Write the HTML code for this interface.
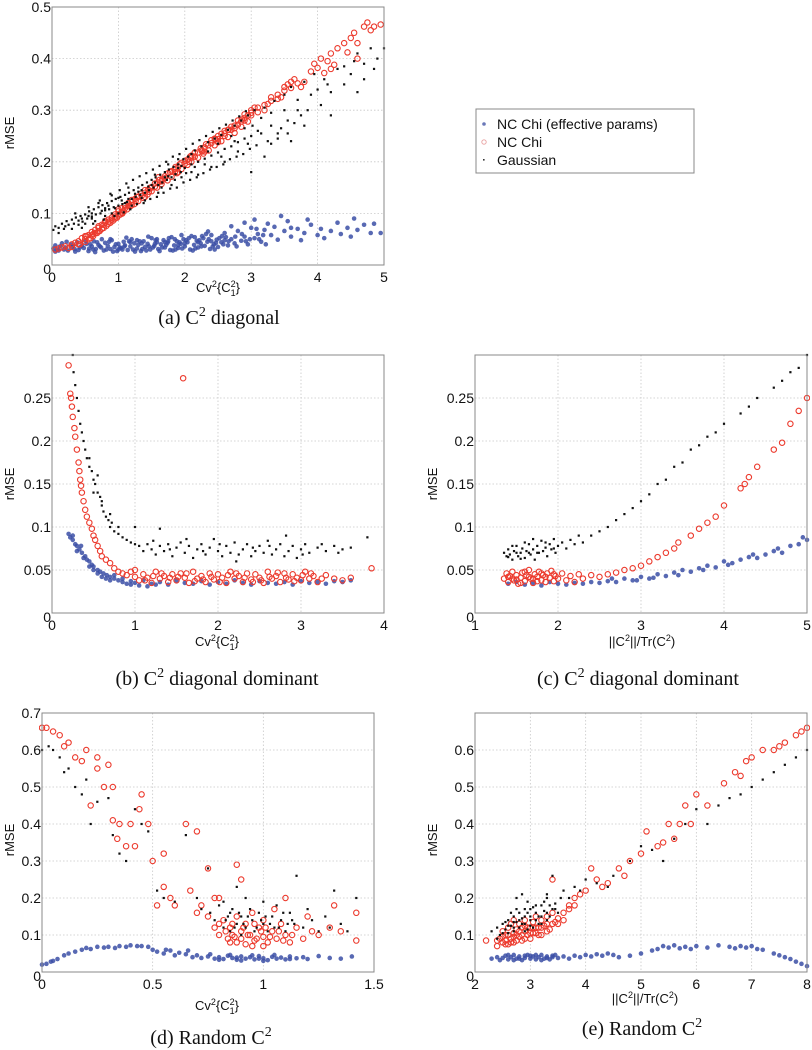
<!DOCTYPE html>
<html><head><meta charset="utf-8">
<style>
html,body{margin:0;padding:0;background:#fff;}
svg{display:block;font-family:"Liberation Sans",sans-serif;}
.cap{font-family:"Liberation Serif",serif;font-size:20px;fill:#111;}
.tk{font-size:14px;fill:#111;}
.al{font-size:13px;fill:#111;}
</style></head>
<body>
<svg id="fig" width="812" height="1050" viewBox="0 0 812 1050" xmlns="http://www.w3.org/2000/svg">
  <g id="legend">
    <rect x="476" y="109" width="218" height="64" fill="#fff" stroke="#888" stroke-width="1"/>
    <g>
      <circle cx="484" cy="124" r="1.8" fill="#6a78b8"/>
      <text x="497" y="129" font-size="14" fill="#111">NC Chi (effective params)</text>
    </g>
    <g>
      <circle cx="484" cy="142" r="2.2" fill="none" stroke="#e8a0a0" stroke-width="0.9"/>
      <text x="497" y="147" font-size="14" fill="#111">NC Chi</text>
    </g>
    <g>
      <rect x="483" y="159" width="1.6" height="1.6" fill="#333"/>
      <text x="497" y="165" font-size="14" fill="#111">Gaussian</text>
    </g>
  </g>
  <text class="cap" x="219" y="324" text-anchor="middle">(a) C<tspan dy="-8" font-size="14">2</tspan><tspan dy="8">  diagonal</tspan></text>
  <text class="cap" x="217" y="685" text-anchor="middle">(b) C<tspan dy="-8" font-size="14">2</tspan><tspan dy="8">  diagonal dominant</tspan></text>
  <text class="cap" x="638" y="685" text-anchor="middle">(c) C<tspan dy="-8" font-size="14">2</tspan><tspan dy="8">  diagonal dominant</tspan></text>
  <text class="cap" x="211" y="1044" text-anchor="middle">(d) Random C<tspan dy="-8" font-size="14">2</tspan></text>
  <text class="cap" x="642" y="1035" text-anchor="middle">(e) Random C<tspan dy="-8" font-size="14">2</tspan></text>
</svg>
<script>
// ---------- Panel (a) data ----------
const aBlue=[0.02,.032,0.05,.038,0.08,.030,0.12,.036,0.15,.042,0.2,.034,0.24,.028,0.28,.040,0.3,.035,0.34,.031,0.38,.044,0.4,.029,0.45,.037,0.48,.033,0.52,.041,0.55,.027,0.6,.036,0.63,.046,0.66,.031,0.7,.039,0.74,.034,0.78,.028,0.8,.043,0.84,.037,0.88,.031,0.9,.048,0.94,.035,0.98,.027,1.0,.041,1.04,.033,1.08,.045,1.1,.038,1.14,.029,1.18,.036,1.2,.050,1.24,.042,1.28,.032,1.3,.039,1.34,.027,1.38,.046,1.4,.035,1.44,.041,1.48,.030,1.5,.052,1.54,.037,1.58,.044,1.6,.031,1.64,.040,1.68,.048,1.7,.034,1.74,.043,1.78,.029,1.8,.054,1.84,.038,1.88,.046,1.9,.033,1.94,.041,1.98,.050,2.0,.036,2.04,.044,2.08,.030,2.1,.056,2.14,.039,2.18,.047,2.2,.034,2.24,.042,2.28,.052,2.3,.037,2.34,.045,2.38,.031,2.4,.058,2.44,.040,2.48,.049,2.5,.035,2.55,.044,2.6,.062,2.65,.038,2.7,.050,2.75,.042,2.8,.066,2.85,.047,2.9,.055,2.95,.040,3.0,.072,3.05,.052,3.1,.060,3.15,.045,3.2,.068,3.3,.058,3.35,.074,3.4,.049,3.5,.066,3.55,.085,3.6,.055,3.7,.070,3.75,.048,3.8,.062,3.9,.078,4.0,.058,4.05,.070,4.1,.052,4.2,.066,4.3,.082,4.35,.060,4.45,.072,4.5,.055,4.55,.090,4.6,.068,4.7,.078,4.8,.062,4.85,.080,4.95,.062,0.1,.028,0.22,.045,0.35,.026,0.5,.047,0.65,.025,0.75,.050,0.92,.026,1.12,.053,1.25,.026,1.45,.055,1.62,.027,1.82,.028,1.95,.058,2.12,.028,2.32,.060,2.45,.030,0.58,.040,0.86,.045,1.02,.034,1.32,.046,1.52,.034,1.72,.039,1.92,.044,2.22,.048,2.52,.052,2.35,.065,2.7,.075,2.9,.082,3.05,.088,3.25,.080,3.45,.095,3.6,.072,3.85,.088,1.06,.030,1.36,.031,1.56,.048,1.76,.052,1.86,.030,2.06,.052,2.16,.032,2.26,.056,2.42,.036,2.58,.040,2.62,.054,2.78,.036,2.92,.046,3.12,.050,3.22,.040];
const aBlueExtra=[0.05,.026,0.18,.030,0.32,.038,0.42,.034,0.56,.032,0.68,.044,0.82,.030,0.96,.040,1.09,.036,1.16,.046,1.22,.030,1.35,.042,1.42,.028,1.55,.041,1.66,.034,1.75,.046,1.85,.050,1.96,.032,2.02,.048,2.15,.054,2.25,.036,2.36,.050,2.47,.043,2.56,.056,2.66,.046,2.76,.055,2.86,.060,2.98,.050,3.08,.070,3.18,.058,0.62,.030,0.72,.036,0.88,.050,1.0,.030,1.18,.044,1.28,.048,1.46,.036,1.58,.050,1.7,.044,1.9,.038,2.0,.042,2.2,.044,2.4,.046,2.6,.048];
const aRed=[0.05,.030,0.1,.032,0.15,.034,0.2,.036,0.25,.033,0.3,.040,0.35,.043,0.4,.046,0.42,.040,0.45,.052,0.5,.050,0.52,.056,0.55,.058,0.58,.052,0.6,.064,0.62,.060,0.65,.068,0.68,.062,0.7,.072,0.72,.066,0.75,.078,0.78,.072,0.8,.082,0.82,.076,0.85,.088,0.88,.082,0.9,.092,0.92,.086,0.95,.098,0.98,.092,1.0,.104,1.03,.098,1.05,.110,1.08,.104,1.1,.115,1.13,.108,1.15,.120,1.18,.114,1.2,.126,1.24,.118,1.28,.132,1.3,.124,1.34,.138,1.38,.130,1.4,.145,1.44,.137,1.48,.150,1.5,.143,1.55,.158,1.58,.150,1.62,.165,1.65,.157,1.7,.172,1.74,.164,1.78,.180,1.8,.171,1.85,.186,1.88,.178,1.92,.195,1.95,.186,2.0,.202,2.04,.194,2.08,.210,2.1,.200,2.15,.218,2.2,.208,2.24,.226,2.28,.216,2.32,.234,2.36,.222,2.4,.242,2.45,.232,2.5,.250,2.55,.240,2.6,.260,2.65,.248,2.7,.268,2.75,.256,2.8,.280,2.85,.268,2.9,.292,2.95,.278,3.0,.300,3.1,.296,3.2,.310,3.3,.318,3.4,.330,3.5,.338,3.55,.350,3.6,.343,3.65,.360,3.7,.352,3.8,.355,3.9,.375,3.95,.390,4.0,.382,4.05,.400,4.1,.372,4.15,.395,4.2,.410,4.25,.388,4.3,.420,4.4,.430,4.45,.412,4.5,.440,4.55,.450,4.6,.430,4.7,.462,4.75,.470,4.8,.455,4.85,.462,4.95,.466,4.6,.400,4.2,.380,3.75,.345,1.6,.160,1.0,.096,0.7,.065,0.5,.045,0.3,.035,2.3,.220,2.6,.250,2.9,.285,3.0,.290,1.2,.116,0.85,.080,0.95,.090,1.4,.132,1.9,.180,2.1,.208,2.5,.238,2.75,.270,0.62,.056,0.78,.078,1.06,.100,1.26,.124,1.46,.142,1.66,.166,1.86,.190,2.06,.200,2.26,.220,2.46,.244,2.66,.262,2.86,.282,3.05,.305,3.25,.312,3.45,.325];
const aRedExtra=[0.4,.040,0.5,.056,0.55,.050,0.6,.058,0.65,.062,0.7,.075,0.75,.070,0.8,.085,0.85,.084,0.9,.088,0.95,.094,1.0,.108,1.05,.102,1.1,.110,1.15,.114,1.2,.122,1.25,.128,1.3,.132,1.35,.134,1.4,.140,1.45,.146,1.5,.150,1.55,.152,1.6,.170,1.65,.162,1.7,.168,1.75,.178,1.8,.182,1.85,.180,1.9,.190,1.95,.198,2.0,.196,2.05,.205,2.1,.212,2.15,.210,2.2,.218,2.25,.222,2.3,.228,2.35,.232,2.4,.236,2.45,.245,2.5,.244,2.55,.254,2.6,.255,2.65,.262,2.7,.262,2.75,.265,2.8,.272,2.85,.278,2.9,.280,2.95,.290,3.0,.295,3.1,.305,3.2,.300,3.3,.325,3.4,.322,3.5,.345,3.6,.355];
const aBlack=[0.02,.068,0.05,.075,0.1,.072,0.15,.080,0.18,.070,0.22,.085,0.25,.078,0.3,.088,0.33,.080,0.36,.092,0.4,.086,0.43,.095,0.46,.084,0.5,.098,0.53,.090,0.56,.104,0.6,.094,0.63,.108,0.66,.098,0.7,.112,0.73,.100,0.76,.116,0.8,.106,0.83,.120,0.86,.108,0.9,.124,0.93,.112,0.96,.128,1.0,.115,1.03,.132,1.06,.118,1.1,.136,1.13,.122,1.16,.140,1.2,.128,1.23,.145,1.26,.132,1.3,.150,1.33,.136,1.36,.155,1.4,.140,1.43,.160,1.46,.145,1.5,.165,1.53,.150,1.56,.170,1.6,.155,1.63,.175,1.66,.160,1.7,.180,1.73,.165,1.76,.185,1.8,.170,1.83,.190,1.86,.176,1.9,.195,1.94,.180,1.98,.205,2.0,.188,2.05,.210,2.1,.195,2.15,.222,2.2,.200,2.25,.230,2.3,.206,2.35,.238,2.4,.212,2.45,.245,2.5,.218,2.55,.252,2.6,.225,2.65,.262,2.7,.230,2.75,.270,2.8,.238,2.85,.280,2.9,.245,2.95,.290,3.0,.250,3.05,.300,3.1,.260,3.2,.305,3.3,.270,3.35,.318,3.4,.255,3.5,.330,3.55,.280,3.6,.345,3.7,.300,3.75,.290,3.8,.355,3.9,.330,3.95,.370,4.0,.340,4.1,.360,4.2,.290,4.3,.380,4.4,.350,4.5,.370,4.6,.410,4.7,.390,4.8,.420,4.9,.400,5.0,.420,2.4,.190,2.6,.200,2.8,.220,3.0,.180,3.4,.245,3.6,.240,3.2,.210,1.4,.125,1.2,.115,1.6,.140,1.8,.155,2.2,.175,0.5,.080,0.8,.095,1.0,.100,0.3,.070,0.6,.090,0.1,.062,1.15,.150,0.9,.135,0.7,.120,1.9,.205,2.1,.215,4.2,.335,4.6,.335,0.95,.110,1.05,.125,1.25,.138,1.35,.130,1.45,.152,1.55,.160,1.65,.150,1.75,.172,1.85,.165,1.95,.192,2.02,.178,0.55,.095,0.75,.105,0.85,.115,0.65,.085,0.45,.090];
const aBlackExtra=[0.35,.100,0.45,.072,0.55,.112,0.62,.080,0.72,.125,0.78,.088,0.88,.138,0.94,.095,1.02,.145,1.08,.102,1.12,.158,1.18,.108,1.22,.165,1.28,.118,1.32,.172,1.38,.120,1.42,.178,1.48,.128,1.52,.185,1.58,.132,1.62,.192,1.68,.140,1.72,.200,1.78,.148,1.82,.210,1.88,.150,1.92,.215,1.98,.160,2.02,.225,2.08,.165,2.12,.235,2.18,.170,2.22,.242,2.28,.178,2.32,.250,2.38,.185,2.42,.258,2.48,.190,2.52,.265,2.58,.195,2.62,.272,2.68,.205,2.72,.280,2.78,.210,2.82,.288,2.88,.215,2.92,.298,2.98,.225,3.02,.270,3.08,.232,3.15,.285,3.25,.240,3.3,.295,3.45,.265,3.5,.300,3.65,.275,3.7,.320,3.85,.300,1.0,.130,1.1,.120,1.3,.142,1.5,.155,1.7,.170,1.9,.188,2.1,.180,2.3,.195,2.5,.235,2.7,.250,2.9,.265,0.2,.075,0.4,.078,0.6,.100,0.8,.110,0.9,.100,1.15,.128,1.35,.145,1.55,.175,1.75,.195,1.95,.170,2.15,.190,2.35,.220,2.55,.210,2.75,.240,2.95,.235,3.15,.255,3.3,.235,3.55,.255,3.8,.270,4.05,.310,4.15,.350,4.4,.385,4.7,.360,4.85,.380,4.55,.395];
// ---------- Panel (b) data ----------
const bBlue=[0.2,.092,0.22,.088,0.25,.085,0.28,.080,0.3,.078,0.33,.074,0.36,.070,0.4,.066,0.42,.062,0.45,.060,0.48,.056,0.5,.054,0.55,.050,0.58,.048,0.62,.046,0.66,.044,0.7,.042,0.75,.040,0.8,.038,0.85,.036,0.9,.034,0.95,.037,1.0,.035,1.05,.032,1.1,.038,1.2,.034,1.3,.036,1.4,.033,1.5,.038,1.6,.035,1.7,.034,1.8,.037,1.9,.033,2.0,.036,2.1,.034,2.2,.038,2.3,.035,2.4,.033,2.5,.037,2.6,.035,2.7,.034,2.8,.036,2.9,.033,3.0,.037,3.1,.035,3.2,.036,3.3,.034,3.4,.037,3.5,.036,3.6,.038,0.3,.072,0.38,.064,0.5,.050,0.6,.042,0.7,.038,0.55,.046,0.65,.040,0.45,.054,0.25,.090,0.35,.078,0.75,.044,0.85,.040,0.95,.033,1.15,.031,1.25,.033];
const bRed=[0.2,.288,0.22,.255,0.23,.250,0.24,.240,0.25,.228,0.27,.215,0.28,.205,0.3,.190,0.32,.175,0.33,.165,0.34,.155,0.35,.148,0.36,.140,0.38,.130,0.4,.120,0.42,.112,0.45,.105,0.48,.098,0.5,.090,0.52,.085,0.55,.078,0.58,.072,0.6,.066,0.65,.062,0.7,.058,0.75,.052,0.8,.048,0.85,.046,0.9,.044,0.95,.048,1.0,.050,1.0,.042,1.58,.273,3.85,.052,1.05,.038,1.1,.045,1.15,.041,1.2,.035,1.25,.048,1.3,.040,1.35,.043,1.4,.036,1.45,.045,1.5,.038,1.55,.046,1.6,.041,1.65,.035,1.7,.048,1.75,.040,1.8,.043,1.85,.036,1.9,.046,1.95,.039,2.0,.045,2.05,.041,2.1,.035,2.15,.048,2.2,.040,2.25,.043,2.3,.036,2.35,.046,2.4,.039,2.45,.045,2.5,.041,2.55,.035,2.6,.048,2.65,.040,2.7,.043,2.75,.036,2.8,.046,2.85,.039,2.9,.045,2.95,.041,3.0,.038,3.05,.048,3.1,.040,3.15,.043,3.2,.036,3.3,.044,3.4,.040,3.5,.038,3.6,.041,1.12,.038,1.32,.046,1.52,.042,1.72,.037,1.92,.042,2.12,.044,2.32,.041,2.52,.038,2.72,.047,2.92,.037,3.12,.046,1.22,.043,1.42,.041,1.62,.046,1.82,.039,2.02,.036,2.22,.046,2.42,.036,2.62,.042,2.82,.041,3.02,.044,3.25,.040];
const bBlack=[0.25,.300,0.26,.280,0.28,.265,0.3,.250,0.32,.235,0.34,.220,0.36,.210,0.38,.200,0.4,.190,0.42,.180,0.45,.170,0.48,.165,0.5,.155,0.52,.150,0.55,.140,0.58,.135,0.6,.125,0.62,.118,0.65,.112,0.68,.108,0.7,.100,0.72,.105,0.75,.095,0.8,.092,0.85,.088,0.9,.085,0.95,.082,1.0,.100,1.0,.080,0.45,.180,0.5,.140,0.55,.160,0.6,.130,0.7,.115,0.8,.100,3.8,.088,1.05,.078,1.1,.072,1.15,.080,1.2,.074,1.25,.068,1.3,.098,1.3,.078,1.35,.072,1.4,.080,1.45,.066,1.5,.076,1.55,.082,1.6,.070,1.65,.078,1.7,.064,1.75,.074,1.8,.080,1.85,.068,1.9,.076,1.95,.086,2.0,.072,2.05,.066,2.1,.078,2.15,.070,2.2,.082,2.25,.068,2.3,.074,2.35,.080,2.4,.066,2.45,.072,2.5,.078,2.55,.070,2.6,.084,2.65,.068,2.7,.074,2.75,.080,2.8,.066,2.85,.072,2.9,.078,2.95,.064,3.0,.074,3.05,.080,3.1,.070,3.2,.076,3.3,.072,3.4,.078,3.5,.074,3.6,.076,1.22,.084,1.42,.074,1.62,.086,1.82,.072,2.02,.080,2.22,.060,2.42,.076,2.62,.078,2.82,.090,3.02,.068,3.25,.080,3.45,.070];
// ---------- Panel (c) data ----------
const cBlue=[1.4,.034,1.5,.036,1.6,.033,1.7,.035,1.8,.032,1.9,.036,2.0,.034,2.1,.033,2.2,.035,2.3,.034,2.4,.036,2.5,.035,2.6,.037,2.7,.036,2.8,.040,2.9,.038,3.0,.042,3.1,.040,3.2,.045,3.3,.043,3.4,.047,3.5,.050,3.6,.048,3.7,.052,3.8,.055,3.9,.053,4.0,.060,4.1,.058,4.2,.062,4.3,.065,4.4,.064,4.5,.068,4.6,.072,4.7,.070,4.8,.078,4.9,.080,5.0,.085,3.15,.041,3.45,.044,3.75,.050,4.05,.056,4.35,.068,4.65,.075,4.95,.088,2.65,.040,2.95,.038];
const cRed=[1.35,.040,1.38,.046,1.4,.036,1.42,.043,1.45,.048,1.47,.038,1.5,.044,1.52,.034,1.55,.041,1.57,.047,1.6,.037,1.62,.044,1.65,.050,1.67,.040,1.7,.035,1.72,.045,1.75,.042,1.77,.048,1.8,.038,1.82,.044,1.85,.036,1.87,.046,1.9,.041,1.92,.049,1.95,.037,1.97,.043,2.0,.040,2.05,.046,2.1,.038,2.15,.043,2.2,.036,2.25,.045,2.3,.040,2.4,.044,2.5,.042,1.45,.040,1.55,.035,1.65,.042,1.75,.037,1.85,.042,1.95,.045,1.6,.048,1.7,.040,1.8,.046,1.5,.039,1.4,.042,2.6,.045,2.7,.047,2.8,.050,2.9,.052,3.0,.055,3.1,.060,3.2,.065,3.3,.070,3.4,.075,3.45,.082,3.6,.090,3.7,.098,3.8,.105,3.9,.112,4.0,.125,4.2,.145,4.25,.150,4.3,.158,4.4,.170,4.6,.190,4.7,.198,4.8,.220,4.9,.235,5.0,.250];
const cBlack=[1.35,.070,1.38,.066,1.4,.074,1.42,.068,1.45,.062,1.47,.072,1.5,.078,1.52,.066,1.55,.070,1.57,.075,1.6,.064,1.62,.072,1.65,.080,1.67,.068,1.7,.074,1.72,.062,1.75,.078,1.77,.070,1.8,.084,1.82,.072,1.85,.076,1.87,.066,1.9,.080,1.92,.074,1.95,.086,1.97,.070,2.0,.078,2.05,.082,2.1,.075,2.15,.085,2.2,.080,2.25,.090,1.45,.078,1.55,.063,1.65,.070,1.75,.070,1.85,.082,1.95,.075,1.6,.082,1.7,.086,1.4,.065,1.5,.070,2.3,.082,2.4,.090,2.5,.095,2.6,.100,2.7,.108,2.8,.115,2.9,.122,3.0,.130,3.1,.138,3.2,.150,3.3,.155,3.4,.170,3.5,.175,3.6,.190,3.7,.195,3.8,.205,3.9,.210,4.0,.220,4.2,.232,4.3,.240,4.4,.250,4.6,.262,4.7,.270,4.8,.280,4.9,.285,5.0,.300];
// ---------- Panel (d) data ----------
const dBlue=[0.0,.020,0.02,.022,0.04,.028,0.05,.030,0.07,.035,0.1,.045,0.12,.050,0.15,.055,0.18,.060,0.2,.065,0.22,.062,0.25,.068,0.28,.066,0.3,.068,0.33,.065,0.35,.070,0.38,.068,0.4,.072,0.43,.070,0.45,.070,0.48,.068,0.5,.060,0.52,.055,0.55,.050,0.58,.058,0.6,.045,0.62,.052,0.65,.048,0.68,.040,0.7,.045,0.72,.038,0.75,.042,0.78,.036,0.8,.040,0.82,.035,0.84,.044,0.86,.038,0.88,.033,0.9,.042,0.92,.036,0.94,.040,0.96,.034,0.98,.043,1.0,.037,1.02,.032,1.04,.041,1.06,.036,1.08,.039,1.1,.034,1.12,.042,1.15,.037,1.18,.040,1.2,.035,1.25,.043,1.3,.038,1.35,.036,1.4,.042,0.85,.046,0.95,.045,1.05,.046,0.9,.031,1.0,.030,0.88,.039,0.98,.036,1.12,.035,0.8,.033,0.76,.048,0.66,.058,0.56,.060];
const dRed=[0.0,.660,0.02,.660,0.05,.650,0.08,.640,0.1,.610,0.12,.620,0.15,.580,0.18,.570,0.2,.600,0.22,.450,0.25,.550,0.25,.580,0.28,.500,0.3,.560,0.32,.500,0.32,.410,0.34,.360,0.35,.400,0.38,.340,0.4,.400,0.42,.340,0.44,.440,0.45,.480,0.48,.400,0.5,.300,0.52,.180,0.55,.320,0.55,.230,0.58,.200,0.6,.180,0.65,.400,0.67,.220,0.7,.380,0.72,.180,0.75,.280,0.78,.200,0.8,.200,0.88,.290,0.9,.250,0.75,.150,0.78,.120,0.8,.100,0.82,.140,0.84,.090,0.85,.120,0.86,.100,0.88,.080,0.88,.150,0.9,.110,0.9,.090,0.92,.130,0.92,.075,0.94,.100,0.95,.160,0.96,.085,0.98,.120,1.0,.095,1.0,.140,1.02,.080,1.04,.110,1.05,.170,1.06,.090,1.08,.130,1.1,.100,1.1,.200,1.12,.080,1.15,.120,1.18,.090,1.2,.150,1.22,.110,1.25,.100,1.3,.120,1.32,.180,1.35,.110,1.42,.160,1.42,.085,0.7,.160,0.95,.070,1.0,.070,0.85,.080];
const dRedExtra=[0.8,.130,0.83,.110,0.87,.095,0.91,.120,0.93,.100,0.97,.090,0.99,.110,1.01,.120,1.03,.095,1.07,.110,1.09,.085,1.13,.100,0.86,.130,0.96,.130];
const dBlack=[0.0,.600,0.03,.610,0.05,.600,0.08,.580,0.1,.540,0.12,.550,0.15,.500,0.18,.480,0.2,.520,0.22,.400,0.25,.460,0.3,.470,0.32,.370,0.35,.320,0.38,.300,0.42,.440,0.45,.400,0.48,.380,0.52,.220,0.55,.200,0.6,.190,0.65,.370,0.7,.200,0.75,.280,0.76,.160,0.78,.140,0.8,.180,0.82,.120,0.84,.150,0.85,.110,0.86,.170,0.88,.130,0.88,.230,0.9,.100,0.9,.150,0.92,.120,0.94,.170,0.95,.140,0.96,.110,0.98,.160,1.0,.130,1.0,.190,1.02,.110,1.04,.150,1.05,.120,1.06,.180,1.08,.140,1.1,.110,1.12,.160,1.14,.130,1.15,.260,1.18,.120,1.2,.170,1.22,.140,1.25,.110,1.28,.150,1.3,.120,1.32,.220,1.35,.130,1.38,.110,1.42,.200,0.72,.170,0.82,.190,0.92,.200];
const dBlackExtra=[0.83,.140,0.87,.120,0.89,.160,0.91,.130,0.93,.150,0.97,.120,0.99,.140,1.01,.150,1.03,.130,1.07,.120,1.09,.160,1.11,.130,1.13,.140,0.85,.160];
// ---------- Panel (e) data ----------
const eBlue=[2.3,.036,2.4,.040,2.45,.032,2.5,.038,2.55,.044,2.6,.034,2.65,.040,2.7,.046,2.75,.036,2.8,.042,2.85,.032,2.9,.038,2.95,.046,3.0,.036,3.05,.042,3.1,.034,3.15,.040,3.2,.046,3.25,.036,3.3,.042,3.35,.034,3.4,.040,3.45,.046,3.5,.038,3.6,.042,3.7,.036,3.8,.044,3.9,.040,4.0,.046,4.1,.042,4.2,.048,4.3,.044,4.4,.050,4.5,.046,4.6,.040,4.8,.044,5.0,.050,5.2,.058,5.3,.062,5.4,.070,5.5,.066,5.6,.072,5.7,.064,5.8,.068,5.9,.062,6.0,.070,6.2,.066,6.4,.072,6.6,.068,6.7,.064,6.8,.070,6.9,.066,7.0,.070,7.1,.062,7.2,.060,7.4,.050,7.5,.045,7.6,.040,7.7,.035,7.8,.028,7.9,.022,8.0,.016,2.6,.046,2.8,.036,3.0,.044,3.2,.032,3.4,.044,2.7,.032,2.9,.044,3.1,.046,3.3,.038];
const eRed=[2.2,.085,2.4,.070,2.45,.090,2.5,.080,2.55,.100,2.6,.075,2.6,.120,2.65,.090,2.7,.105,2.7,.080,2.75,.115,2.8,.095,2.8,.130,2.85,.085,2.9,.110,2.9,.140,2.95,.100,3.0,.120,3.0,.090,3.05,.135,3.1,.105,3.1,.150,3.15,.120,3.2,.100,3.2,.140,3.25,.125,3.3,.150,3.35,.115,3.4,.160,3.45,.135,3.5,.145,2.5,.110,2.7,.140,2.85,.120,3.05,.105,3.3,.130,2.65,.130,2.55,.085,3.6,.160,3.7,.180,3.8,.200,3.9,.210,4.0,.220,4.1,.280,4.2,.250,4.3,.230,4.4,.240,4.6,.280,4.7,.260,4.8,.300,5.0,.320,5.1,.380,5.3,.340,5.4,.350,5.5,.400,5.6,.360,5.7,.400,5.8,.450,5.9,.400,6.0,.480,6.2,.450,6.5,.510,6.7,.540,6.8,.530,6.9,.570,7.0,.580,7.2,.600,7.4,.600,7.5,.610,7.6,.620,7.8,.640,7.9,.650,8.0,.660,3.4,.250];
const eRedExtra=[2.4,.085,2.5,.095,2.55,.075,2.6,.100,2.65,.080,2.7,.095,2.75,.100,2.8,.110,2.85,.100,2.9,.090,2.95,.120,3.0,.105,3.05,.120,3.1,.120,3.15,.100,3.2,.120,3.3,.110,3.4,.130,3.5,.130,3.6,.140,3.7,.170,3.8,.180,2.75,.085,2.9,.125];
const eBlack=[2.3,.110,2.4,.120,2.45,.100,2.5,.130,2.55,.115,2.6,.140,2.6,.105,2.65,.125,2.7,.150,2.7,.110,2.75,.135,2.8,.160,2.8,.120,2.85,.145,2.9,.130,2.9,.170,2.95,.115,3.0,.150,3.0,.125,3.05,.175,3.1,.140,3.1,.160,3.15,.130,3.2,.180,3.2,.150,3.25,.165,3.3,.200,3.35,.150,3.4,.170,3.45,.185,3.5,.160,2.75,.200,2.85,.210,2.95,.190,3.3,.210,3.4,.260,3.6,.220,3.7,.200,3.8,.230,3.9,.220,4.0,.250,4.2,.240,4.4,.230,4.5,.260,4.8,.300,5.0,.340,5.2,.330,5.4,.300,5.6,.360,5.8,.400,6.0,.440,6.2,.400,6.4,.450,6.6,.470,6.8,.480,7.0,.500,7.2,.520,7.4,.540,7.6,.560,7.8,.580,8.0,.600];
const eBlackExtra=[2.4,.090,2.5,.105,2.6,.125,2.65,.160,2.7,.120,2.75,.170,2.8,.140,2.85,.130,2.9,.150,2.95,.160,3.0,.140,3.05,.120,3.1,.180,3.15,.150,3.2,.130,3.25,.190,3.3,.160,3.35,.180,3.45,.170,3.55,.200,2.55,.135,2.9,.110,3.0,.170,3.3,.140,2.7,.135];

const aXTicks=[0,1,2,3,4,5], aYTicks=[0,0.1,0.2,0.3,0.4,0.5], aYLabels=["0","0.1","0.2","0.3","0.4","0.5"];
const bXTicks=[0,1,2,3,4], bYTicks=[0,0.05,0.1,0.15,0.2,0.25], bYLabels=["0","0.05","0.1","0.15","0.2","0.25"];
const cXTicks=[1,2,3,4,5];
const dXTicks=[0,0.5,1,1.5], dXLabels=["0","0.5","1","1.5"], dYTicks=[0,0.1,0.2,0.3,0.4,0.5,0.6,0.7], dYLabels=["0","0.1","0.2","0.3","0.4","0.5","0.6","0.7"];
const eXTicks=[2,3,4,5,6,7,8], eYTicks=[0,0.1,0.2,0.3,0.4,0.5,0.6], eYLabels=["0","0.1","0.2","0.3","0.4","0.5","0.6"];

const NS="http://www.w3.org/2000/svg";
const fig=document.getElementById('fig');
function mk(tag,attrs,parent){const e=document.createElementNS(NS,tag);for(const k in attrs)e.setAttribute(k,attrs[k]);parent.appendChild(e);return e;}

function panel(id,box,xr,yr,xt,xl,yt,yl,blue,red,black,xlabel,xlabelPos,ylabelPos){
  const g=mk('g',{},fig);
  
  
  const sx=v=>box.l+(v-xr[0])/(xr[1]-xr[0])*(box.r-box.l);
  const sy=v=>box.b-(v-yr[0])/(yr[1]-yr[0])*(box.b-box.t);
  xt.forEach(v=>{const ln=mk('line',{x1:sx(v),x2:sx(v),y1:box.t,y2:box.b,stroke:'#c8c8c8','stroke-width':0.8,'stroke-dasharray':'1.5,2'},g);
    
    });
  yt.forEach(v=>{const ln=mk('line',{x1:box.l,x2:box.r,y1:sy(v),y2:sy(v),stroke:'#c8c8c8','stroke-width':0.8,'stroke-dasharray':'1.5,2'},g);
    
    });
  const clip=mk('clipPath',{id:'clip'+id},g);
  mk('rect',{x:box.l-3,y:box.t-3,width:box.r-box.l+6,height:box.b-box.t+6},clip);
  const pts=mk('g',{'clip-path':'url(#clip'+id+')'},g);
  for(let i=0;i<blue.length;i+=2){const c=mk('circle',{cx:sx(blue[i]),cy:sy(blue[i+1]),r:2.3,fill:'#3b4fa6','fill-opacity':0.85},pts);
    
    }
  for(let i=0;i<red.length;i+=2){const c=mk('circle',{cx:sx(red[i]),cy:sy(red[i+1]),r:2.7,fill:'none',stroke:'#ec3b2e','stroke-width':1.1},pts);
    
    }
  for(let i=0;i<black.length;i+=2){const c=mk('rect',{x:sx(black[i])-1.1,y:sy(black[i+1])-1.1,width:2.2,height:2.2,fill:'#111'},pts);
    
    }
  const fr=mk('rect',{x:box.l,y:box.t,width:box.r-box.l,height:box.b-box.t,fill:'none',stroke:'#888','stroke-width':1},g);
  
  
  xt.forEach((v,i)=>{const t=mk('text',{x:sx(v),y:box.b+17,'text-anchor':'middle',class:'tk'},g);t.textContent=xl[i];
    
    });
  yt.forEach((v,i)=>{const t=mk('text',{x:box.l-1,y:sy(v)+(i===0?9:5),'text-anchor':'end',class:'tk'},g);t.textContent=yl[i];
    
    });
  const yl2=mk('text',{x:ylabelPos[0],y:ylabelPos[1],'text-anchor':'middle',class:'al',transform:'rotate(-90 '+ylabelPos[0]+' '+ylabelPos[1]+')'},g);
  yl2.textContent='rMSE';
  
  
  const xa=mk('text',{x:xlabelPos[0],y:xlabelPos[1],'text-anchor':'middle',class:'al'},g);
  xa.innerHTML=xlabel;
  
  
}
const cvLabel='Cv<tspan dy="-5" font-size="9">2</tspan><tspan dy="5">{C</tspan><tspan dy="-5" font-size="9">2</tspan><tspan dx="-5" dy="9" font-size="9">1</tspan><tspan dy="-4">}</tspan>';
const normLabel='||C<tspan dy="-5" font-size="9">2</tspan><tspan dy="5">||/Tr(C</tspan><tspan dy="-5" font-size="9">2</tspan><tspan dy="5">)</tspan>';
const s=a=>a.map(String);
panel('a',{l:52,r:384,t:7,b:265},[0,5],[0,0.5],aXTicks,s(aXTicks),aYTicks,aYLabels,aBlue.concat(aBlueExtra),aRed.concat(aRedExtra),aBlack.concat(aBlackExtra),cvLabel,[218,292],[14,133]);
panel('b',{l:52,r:384,t:355,b:613},[0,4],[0,0.3],bXTicks,s(bXTicks),bYTicks,bYLabels,bBlue,bRed,bBlack,cvLabel,[217,646],[14,484]);
panel('c',{l:475,r:807,t:355,b:613},[1,5],[0,0.3],cXTicks,s(cXTicks),bYTicks,bYLabels,cBlue,cRed,cBlack,normLabel,[642,646],[437,484]);
panel('d',{l:42,r:374,t:713,b:972},[0,1.5],[0,0.7],dXTicks,dXLabels,dYTicks,dYLabels,dBlue,dRed.concat(dRedExtra),dBlack.concat(dBlackExtra),cvLabel,[217,1010],[14,840]);
panel('e',{l:475,r:807,t:713,b:972},[2,8],[0,0.7],eXTicks,s(eXTicks),eYTicks,eYLabels,eBlue,eRed.concat(eRedExtra),eBlack.concat(eBlackExtra),normLabel,[645,1003],[437,840]);
</script>
</body></html>
